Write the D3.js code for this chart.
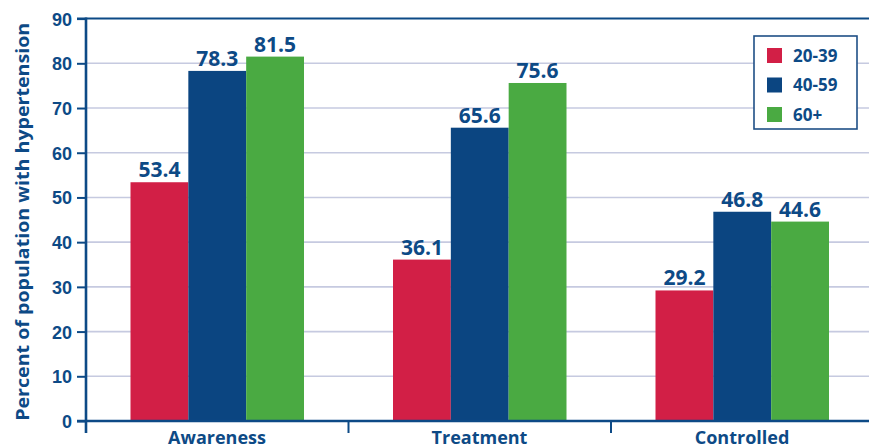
<!DOCTYPE html>
<html>
<head>
<meta charset="utf-8">
<script src="https://cdn.jsdelivr.net/npm/d3@7"></script>
<style>
    body { margin: 0; background: #fff; }
    svg { display: block; font-family: "Open Sans", "DejaVu Sans", sans-serif; font-weight: 700; }
</style>
</head>
<body>
<svg id="chart" width="869" height="444"></svg>
<script>
/* ------------------------------ DATA ------------------------------ */

let categories = ["Awareness", "Treatment", "Controlled"]
let ageGroups = ["20-39", "40-59", "60+"]
let values2039 = [53.4, 36.1, 29.2]
let values4059 = [78.3, 65.6, 46.8]
let values60 = [81.5, 75.6, 44.6]
let yTicks = [0, 10, 20, 30, 40, 50, 60, 70, 80, 90]
let yLabel = "Percent of population with hypertension"

/* ------------------------------ SETUP ------------------------------ */

let colors = ["#d21f46", "#0b4581", "#4aaa42"]
let ink = "#0d4a86"

let svg = d3.select("#chart")
let margin = { left: 86, top: 18.6, bottom: 421 }

let series = [values2039, values4059, values60]
let rows = categories.map(function (c, i) {
    return { cat: c, vals: series.map(function (s, j) { return { key: ageGroups[j], v: s[i] } }) }
})

let x0 = d3.scaleBand().domain(categories).range([margin.left, margin.left + 262.5 * 3])
let x1 = d3.scaleBand().domain(ageGroups).range([44.5, 218])
let y = d3.scaleLinear().domain([0, 90]).range([margin.bottom, margin.top])
let color = d3.scaleOrdinal().domain(ageGroups).range(colors)

/* ------------------------------ GRID ------------------------------ */

svg.append('g')
    .selectAll('line')
    .data(yTicks.filter(function (t) { return t > 0 && t < 90 }))
    .enter()
        .append('line')
        .attr('x1', margin.left).attr('x2', 869)
        .attr('y1', function (d) { return y(d) }).attr('y2', function (d) { return y(d) })
        .attr('stroke', '#c6cae0').attr('stroke-width', 1.6)

// top frame line at 90
svg.append('line')
    .attr('x1', 77).attr('x2', 869)
    .attr('y1', y(90)).attr('y2', y(90))
    .attr('stroke', ink).attr('stroke-width', 2)

/* ------------------------------ BARS ------------------------------ */

let groups = svg.append('g')
    .selectAll('g')
    .data(rows)
    .enter()
        .append('g')
        .attr('transform', function (d) { return 'translate(' + x0(d.cat) + ',0)' })

groups.selectAll('rect')
    .data(function (d) { return d.vals })
    .enter()
        .append('rect')
        .attr('x', function (d) { return x1(d.key) })
        .attr('width', x1.bandwidth())
        .attr('y', function (d) { return y(d.v) })
        .attr('height', function (d) { return y(0) - y(d.v) })
        .attr('fill', function (d) { return color(d.key) })

groups.selectAll('text')
    .data(function (d) { return d.vals })
    .enter()
        .append('text')
        .attr('x', function (d) { return x1(d.key) + x1.bandwidth() / 2 })
        .attr('y', function (d) { return y(d.v) - 5 })
        .attr('text-anchor', 'middle')
        .attr('fill', ink)
        .attr('font-size', 21)
        .text(function (d) { return d.v.toFixed(1) })

/* ------------------------------ AXES ------------------------------ */

let yAxis = svg.append('g')
    .attr('transform', 'translate(' + margin.left + ',0)')
    .call(d3.axisLeft(y).tickValues(yTicks).tickSize(9).tickPadding(5))
yAxis.select('.domain').remove()
yAxis.selectAll('line').attr('stroke', ink).attr('stroke-width', 2)
yAxis.selectAll('text').attr('fill', ink).attr('font-size', 18).attr('font-family', null).attr('dy', '0.36em')

svg.append('line')
    .attr('x1', margin.left).attr('x2', margin.left)
    .attr('y1', y(90) - 1).attr('y2', 433)
    .attr('stroke', ink).attr('stroke-width', 2.6)

let xAxis = svg.append('g')
    .attr('transform', 'translate(0,' + margin.bottom + ')')
xAxis.append('line')
    .attr('x1', 77).attr('x2', 869)
    .attr('stroke', ink).attr('stroke-width', 2.6)
xAxis.selectAll('.sep')
    .data(categories.slice(1))
    .enter()
        .append('line')
        .attr('class', 'sep')
        .attr('x1', function (d) { return x0(d) }).attr('x2', function (d) { return x0(d) })
        .attr('y1', 0).attr('y2', 12)
        .attr('stroke', ink).attr('stroke-width', 2)
xAxis.selectAll('text')
    .data(categories)
    .enter()
        .append('text')
        .attr('x', function (d) { return x0(d) + 131 })
        .attr('y', 23)
        .attr('text-anchor', 'middle')
        .attr('fill', ink)
        .attr('font-size', 18)
        .text(function (d) { return d })

svg.append('text')
    .attr('transform', 'translate(29,' + ((y(90) + y(0)) / 2 + 2) + ') rotate(-90)')
    .attr('text-anchor', 'middle')
    .attr('fill', ink)
    .attr('font-size', 18.5)
    .attr('textLength', 398)
    .attr('lengthAdjust', 'spacingAndGlyphs')
    .text(yLabel)

/* ------------------------------ LEGEND ------------------------------ */

let legend = svg.append('g').attr('transform', 'translate(754,36)')
legend.append('rect')
    .attr('width', 103).attr('height', 93)
    .attr('fill', '#fff').attr('stroke', '#1f4f86').attr('stroke-width', 1.6)

let items = legend.selectAll('g')
    .data(ageGroups)
    .enter()
        .append('g')
        .attr('transform', function (d, i) { return 'translate(13,' + (12 + i * 29.5) + ')' })
items.append('rect')
    .attr('width', 15).attr('height', 15)
    .attr('fill', function (d) { return color(d) })
items.append('text')
    .attr('x', 26).attr('y', 7.5).attr('dy', '0.36em')
    .attr('fill', ink).attr('font-size', 17)
    .text(function (d) { return d })
</script>
</body>
</html>
